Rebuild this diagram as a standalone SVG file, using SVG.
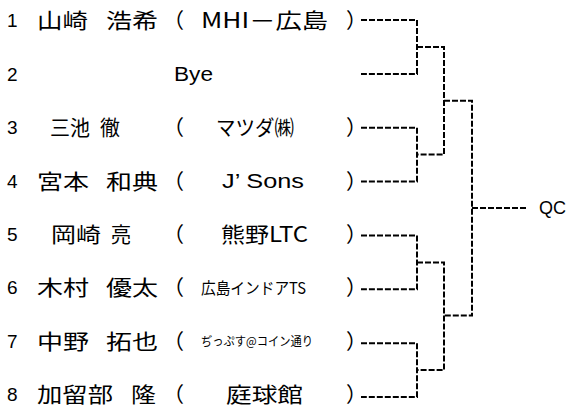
<svg xmlns="http://www.w3.org/2000/svg" width="573" height="407" viewBox="0 0 573 407">
<style>
text{fill:#000}
.n{font-family:"Liberation Sans","Noto Sans CJK JP",sans-serif;font-size:19px}
.j{font-family:"Noto Sans CJK JP","Liberation Sans",sans-serif;font-size:21px}
.s{font-family:"Noto Sans CJK JP","Liberation Sans",sans-serif;font-size:16px}
.t{font-family:"Noto Sans CJK JP","Liberation Sans",sans-serif;font-size:12.5px}
.l{font-family:"Liberation Sans","Noto Sans CJK JP",sans-serif;font-size:20px}
.q{font-family:"Liberation Sans","Noto Sans CJK JP",sans-serif;font-size:18px}
.c{fill:none;stroke:#000;stroke-width:2;stroke-dasharray:6 2}
</style>
<rect width="573" height="407" fill="#fff"/>
<g id="connectors">
<path class="c" d="M361,20 H417 V73.9 H361"/>
<path class="c" d="M361,127.7 H417 V181.6 H361"/>
<path class="c" d="M361,235.4 H417 V289.3 H361"/>
<path class="c" d="M361,343.2 H417 V397 H361"/>
<path class="c" d="M417,47 H444 V154.6 H417"/>
<path class="c" d="M417,262.4 H444 V370 H417"/>
<path class="c" d="M444,100.8 H472 V315.6 H444"/>
<path class="c" d="M472,208 H528"/>
</g>
<g id="p1">
<text class="n" x="7" y="27.3">1</text>
<text class="j" x="37" y="28.3" textLength="51" lengthAdjust="spacingAndGlyphs">山崎</text>
<text class="j" x="106" y="28.3" textLength="52" lengthAdjust="spacingAndGlyphs">浩希</text>
<text class="j" x="163" y="28.3">（</text>
<text class="j" x="201" y="28.3" textLength="127" lengthAdjust="spacingAndGlyphs">MHI－広島</text>
<text class="j" x="346" y="28.3">）</text>
</g>
<g id="p2">
<text class="n" x="7" y="80.7">2</text>
<text class="l" x="174" y="80.7" textLength="39" lengthAdjust="spacingAndGlyphs">Bye</text>
</g>
<g id="p3">
<text class="n" x="7" y="134.1">3</text>
<text class="j" x="50" y="135.1" textLength="40" lengthAdjust="spacingAndGlyphs">三池</text>
<text class="j" x="100" y="135.1" textLength="20" lengthAdjust="spacingAndGlyphs">徹</text>
<text class="j" x="163" y="135.1">（</text>
<text class="j" x="216" y="135.1" textLength="78" lengthAdjust="spacingAndGlyphs">マツダ㈱</text>
<text class="j" x="346" y="135.1">）</text>
</g>
<g id="p4">
<text class="n" x="7" y="187.5">4</text>
<text class="j" x="37" y="188.5" textLength="52" lengthAdjust="spacingAndGlyphs">宮本</text>
<text class="j" x="106" y="188.5" textLength="52" lengthAdjust="spacingAndGlyphs">和典</text>
<text class="j" x="163" y="188.5">（</text>
<text class="l" x="222" y="187.5" textLength="82" lengthAdjust="spacingAndGlyphs">J’ Sons</text>
<text class="j" x="346" y="188.5">）</text>
</g>
<g id="p5">
<text class="n" x="7" y="240.9">5</text>
<text class="j" x="51" y="241.9" textLength="50" lengthAdjust="spacingAndGlyphs">岡崎</text>
<text class="j" x="111" y="241.9" textLength="20" lengthAdjust="spacingAndGlyphs">亮</text>
<text class="j" x="163" y="241.9">（</text>
<text class="j" x="221" y="241.9" textLength="87" lengthAdjust="spacingAndGlyphs">熊野LTC</text>
<text class="j" x="346" y="241.9">）</text>
</g>
<g id="p6">
<text class="n" x="7" y="294.3">6</text>
<text class="j" x="37" y="295.3" textLength="52" lengthAdjust="spacingAndGlyphs">木村</text>
<text class="j" x="106" y="295.3" textLength="52" lengthAdjust="spacingAndGlyphs">優太</text>
<text class="j" x="163" y="295.3">（</text>
<text class="s" x="201" y="293.5" textLength="105" lengthAdjust="spacingAndGlyphs">広島インドアTS</text>
<text class="j" x="346" y="295.3">）</text>
</g>
<g id="p7">
<text class="n" x="7" y="347.7">7</text>
<text class="j" x="37" y="348.7" textLength="52" lengthAdjust="spacingAndGlyphs">中野</text>
<text class="j" x="106" y="348.7" textLength="52" lengthAdjust="spacingAndGlyphs">拓也</text>
<text class="j" x="163" y="348.7">（</text>
<text class="t" x="201" y="345.5" textLength="112" lengthAdjust="spacingAndGlyphs">ぢっぷす@コイン通り</text>
<text class="j" x="346" y="348.7">）</text>
</g>
<g id="p8">
<text class="n" x="7" y="401.1">8</text>
<text class="j" x="37" y="402.1" textLength="76" lengthAdjust="spacingAndGlyphs">加留部</text>
<text class="j" x="131" y="402.1" textLength="25" lengthAdjust="spacingAndGlyphs">隆</text>
<text class="j" x="163" y="402.1">（</text>
<text class="j" x="226" y="402.1" textLength="77" lengthAdjust="spacingAndGlyphs">庭球館</text>
<text class="j" x="346" y="402.1">）</text>
</g>
<g id="qc">
<text class="q" x="539" y="214">QC</text>
</g>
</svg>
